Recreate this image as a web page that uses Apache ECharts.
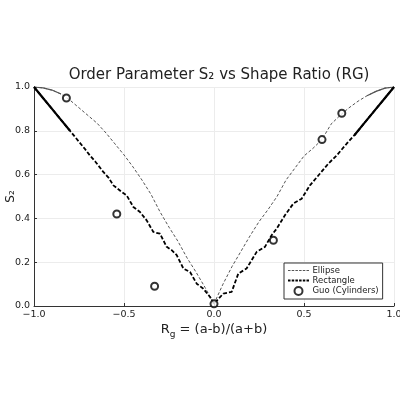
<!DOCTYPE html>
<html>
<head>
<meta charset="utf-8">
<script src="https://cdn.jsdelivr.net/npm/echarts@6/dist/echarts.min.js"></script>
<style>
  html, body { margin: 0; padding: 0; background: #fff; }
  #chart { width: 400px; height: 400px; }
</style>
</head>
<body>
<div id="chart"></div>
<script>
// shape ratio samples
const ellipseX = [-1, -0.95, -0.9, -0.85, -0.8, -0.75, -0.7, -0.65, -0.6, -0.55, -0.5, -0.45, -0.4, -0.35, -0.3, -0.25, -0.2, -0.15, -0.1, -0.05, 0,
  0.05, 0.1, 0.15, 0.2, 0.25, 0.3, 0.35, 0.4, 0.45, 0.5, 0.55, 0.6, 0.65, 0.7, 0.75, 0.8, 0.85, 0.9, 0.95, 1]
const ellipseS2 = [1.0, 0.996, 0.986, 0.968, 0.94, 0.905, 0.87, 0.835, 0.79, 0.74, 0.69, 0.635, 0.575, 0.51, 0.43, 0.36, 0.295, 0.22, 0.155, 0.085, 0.01,
  0.10, 0.18, 0.25, 0.32, 0.385, 0.44, 0.5, 0.575, 0.63, 0.685, 0.72, 0.76, 0.83, 0.87, 0.905, 0.935, 0.96, 0.98, 0.995, 1.0]

const rectX = [-1, -0.95, -0.9, -0.85, -0.8, -0.75, -0.72, -0.69, -0.66, -0.615, -0.585, -0.559, -0.513, -0.485, -0.448, -0.411, -0.374, -0.337, -0.3, -0.263, -0.235, -0.207, -0.17, -0.133, -0.096, -0.059, -0.022, 0,
  0.006, 0.052, 0.098, 0.135, 0.181, 0.237, 0.283, 0.32, 0.348, 0.394, 0.441, 0.487, 0.533, 0.589, 0.635, 0.682, 0.737, 0.78, 0.82, 0.86, 0.9, 0.95, 1]
const rectS2 = [1.0, 0.95, 0.9, 0.85, 0.8, 0.75, 0.72, 0.688, 0.66, 0.612, 0.585, 0.551, 0.521, 0.505, 0.452, 0.429, 0.391, 0.338, 0.33, 0.27, 0.255, 0.232, 0.171, 0.155, 0.102, 0.079, 0.041, 0.01,
  0.018, 0.057, 0.064, 0.148, 0.171, 0.247, 0.27, 0.323, 0.353, 0.414, 0.468, 0.49, 0.551, 0.605, 0.65, 0.688, 0.741, 0.78, 0.82, 0.86, 0.9, 0.95, 1.0]

const guoX = [-0.82, -0.54, -0.33, 0.0, 0.33, 0.6, 0.71]
const guoS2 = [0.95, 0.42, 0.09, 0.01, 0.30, 0.76, 0.88]

function pairs(xs, ys) {
  return xs.map((x, i) => [x, ys[i]])
}
// near |R|=1 the simulated points are so dense the dashes close up
function denseEnds(xs, ys, cut) {
  var left = [], right = []
  xs.forEach((x, i) => {
    if (x <= -cut) left.push([x, ys[i]])
    if (x >= cut) right.push([x, ys[i]])
  })
  return [left, right]
}
// dashed legend swatch, 22 x 8 box, dash band of height h
function dashIcon(h) {
  var y0 = 4 - h / 2, y1 = 4 + h / 2, p = 'path://M0,0 L0,0 M0,8 L0,8'
  for (var x = 0; x < 22; x += 3.7) {
    var x1 = Math.min(x + 2.5, 22)
    p += ' M' + x + ',' + y0 + ' L' + x1 + ',' + y0 + ' L' + x1 + ',' + y1 + ' L' + x + ',' + y1 + ' Z'
  }
  return p
}

const font = 'DejaVu Sans'
const fmt = v => v.toFixed(1).replace('-', '\u2212')

var myChart = echarts.init(document.getElementById('chart'))
var ellEnds = denseEnds(ellipseX, ellipseS2, 0.82)
var recEnds = denseEnds(rectX, rectS2, 0.78)

var option = {
  animation: false,
  backgroundColor: '#fff',
  title: {
    text: 'Order Parameter S\u2082 vs Shape Ratio (RG)',
    left: 214,
    top: 63,
    textAlign: 'center',
    textStyle: { fontFamily: font, fontSize: 15, fontWeight: 'normal', color: '#222' }
  },
  grid: { left: 34, right: 6, top: 87, bottom: 94, outerBoundsMode: 'none', containLabel: false },
  legend: {
    data: [
      { name: 'Ellipse', icon: dashIcon(1), itemStyle: { color: '#555', borderWidth: 0 } },
      { name: 'Rectangle', icon: dashIcon(1.8), itemStyle: { color: '#000', borderWidth: 0 } },
      { name: 'Guo (Cylinders)', icon: 'circle' }
    ],
    orient: 'vertical',
    left: 284,
    top: 263,
    itemGap: 1,
    itemWidth: 22,
    itemHeight: 8,
    padding: [3, 4, 3, 4],
    borderColor: '#333',
    borderWidth: 1,
    backgroundColor: '#fff',
    textStyle: { fontFamily: font, fontSize: 8.5, color: '#222', padding: [0, 0, 0, -2] }
  },
  xAxis: {
    type: 'value',
    min: -1, max: 1, interval: 0.5,
    name: 'R{s|g} = (a-b)/(a+b)',
    nameLocation: 'middle',
    nameMoveOverlap: false,
    nameGap: 14,
    nameTextStyle: {
      fontFamily: font, fontSize: 13, color: '#222',
      rich: { s: { fontFamily: font, fontSize: 9, color: '#222', padding: [10, 0, 0, 0] } }
    },
    axisLine: { onZero: false, lineStyle: { color: '#333', width: 1 } },
    axisTick: { inside: true, length: 3, lineStyle: { color: '#333' } },
    axisLabel: { fontFamily: font, fontSize: 9.5, color: '#222', margin: 4, formatter: fmt },
    splitLine: { show: true, lineStyle: { color: '#ececec', width: 1 } }
  },
  yAxis: {
    type: 'value',
    min: 0, max: 1, interval: 0.2,
    name: 'S\u2082',
    nameLocation: 'middle',
    nameMoveOverlap: false,
    nameGap: 17,
    nameRotate: 90,
    nameTextStyle: { fontFamily: font, fontSize: 12, color: '#222' },
    axisLine: { show: true, onZero: false, lineStyle: { color: '#333', width: 1 } },
    axisTick: { show: true, inside: true, length: 3, lineStyle: { color: '#333' } },
    axisLabel: { fontFamily: font, fontSize: 9.5, color: '#222', margin: 4, formatter: v => v.toFixed(1) },
    splitLine: { show: true, lineStyle: { color: '#ececec', width: 1 } }
  },
  series: [
    {
      name: 'Ellipse', type: 'line', data: pairs(ellipseX, ellipseS2),
      showSymbol: false, symbol: 'none',
      lineStyle: { color: '#555', width: 1, type: [3, 2] },
      itemStyle: { color: '#555' }, z: 2
    },
    { type: 'line', data: ellEnds[0], symbol: 'none', lineStyle: { color: '#555', width: 1.2 }, z: 2 },
    { type: 'line', data: ellEnds[1], symbol: 'none', lineStyle: { color: '#555', width: 1.2 }, z: 2 },
    {
      name: 'Rectangle', type: 'line', data: pairs(rectX, rectS2),
      showSymbol: false, symbol: 'none',
      lineStyle: { color: '#000', width: 1.8, type: [4, 2] },
      itemStyle: { color: '#000' }, z: 3
    },
    { type: 'line', data: recEnds[0], symbol: 'none', lineStyle: { color: '#000', width: 2.2 }, z: 3 },
    { type: 'line', data: recEnds[1], symbol: 'none', lineStyle: { color: '#000', width: 2.2 }, z: 3 },
    {
      name: 'Guo (Cylinders)', type: 'scatter', data: pairs(guoX, guoS2),
      symbol: 'circle', symbolSize: 7,
      itemStyle: { color: '#fff', borderColor: '#000', borderWidth: 2 }, z: 5
    }
  ]
}

myChart.setOption(option)
</script>
</body>
</html>
